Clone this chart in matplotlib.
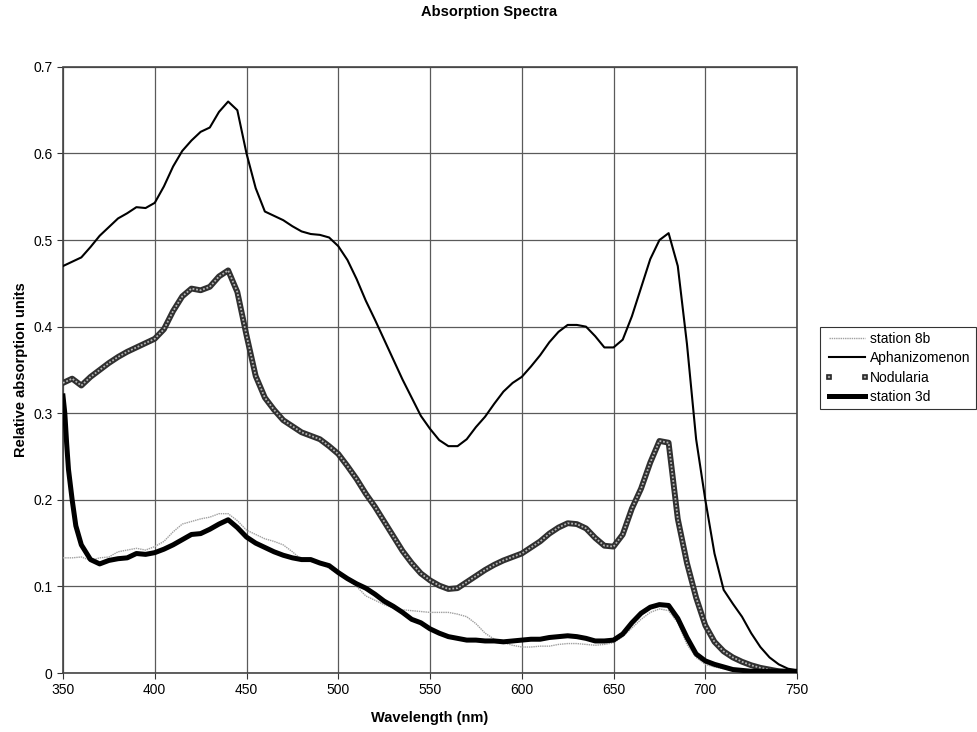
import matplotlib
matplotlib.use("Agg")
import matplotlib.pyplot as plt
from matplotlib.lines import Line2D
from matplotlib.ticker import FuncFormatter

plt.rcParams['font.family'] = ['Liberation Sans', 'DejaVu Sans']

# wavelength grid (nm), 5 nm steps
wl = list(range(350, 755, 5))

aphanizomenon = [0.470, 0.475, 0.480, 0.492, 0.505, 0.515, 0.525, 0.531, 0.538, 0.537,
                 0.543, 0.562, 0.585, 0.603, 0.615, 0.625, 0.630, 0.648, 0.660, 0.650,
                 0.600, 0.560, 0.533, 0.528, 0.523, 0.516, 0.510, 0.507, 0.506, 0.503,
                 0.493, 0.477, 0.455, 0.430, 0.408, 0.385, 0.362, 0.339, 0.318, 0.297,
                 0.282, 0.269, 0.262, 0.262, 0.270, 0.284, 0.296, 0.311, 0.325, 0.335,
                 0.342, 0.354, 0.367, 0.382, 0.394, 0.402, 0.402, 0.400, 0.389, 0.376,
                 0.376, 0.385, 0.412, 0.445, 0.478, 0.500, 0.508, 0.470, 0.380, 0.270,
                 0.200, 0.138, 0.096, 0.080, 0.065, 0.046, 0.030, 0.018, 0.010, 0.005,
                 0.003]

nodularia = [0.335, 0.340, 0.332, 0.342, 0.350, 0.358, 0.365, 0.371, 0.376, 0.381,
             0.386, 0.397, 0.418, 0.435, 0.444, 0.442, 0.446, 0.458, 0.465, 0.440,
             0.390, 0.343, 0.318, 0.304, 0.292, 0.285, 0.278, 0.274, 0.270, 0.262,
             0.253, 0.239, 0.224, 0.207, 0.192, 0.175, 0.158, 0.141, 0.127, 0.115,
             0.107, 0.101, 0.097, 0.098, 0.105, 0.112, 0.119, 0.125, 0.130, 0.134,
             0.138, 0.145, 0.152, 0.161, 0.168, 0.173, 0.172, 0.167, 0.156, 0.147,
             0.146, 0.160, 0.190, 0.213, 0.243, 0.268, 0.266, 0.178, 0.127, 0.087,
             0.055, 0.036, 0.025, 0.018, 0.013, 0.009, 0.006, 0.004, 0.002, 0.001,
             0.000]

station_8b = [0.133, 0.133, 0.134, 0.130, 0.133, 0.134, 0.140, 0.142, 0.144, 0.142,
              0.146, 0.152, 0.163, 0.172, 0.175, 0.178, 0.180, 0.184, 0.184, 0.176,
              0.165, 0.160, 0.155, 0.152, 0.148, 0.140, 0.131, 0.129, 0.127, 0.121,
              0.115, 0.108, 0.100, 0.089, 0.084, 0.079, 0.075, 0.073, 0.072, 0.071,
              0.070, 0.070, 0.070, 0.068, 0.065, 0.057, 0.046, 0.039, 0.035, 0.032,
              0.030, 0.030, 0.031, 0.031, 0.033, 0.034, 0.034, 0.033, 0.032, 0.033,
              0.035, 0.042, 0.052, 0.062, 0.070, 0.074, 0.072, 0.058, 0.033, 0.018,
              0.010, 0.007, 0.005, 0.003, 0.002, 0.002, 0.001, 0.001, 0.001, 0.001,
              0.001]

# station 3d has a steep start, so a few extra points at the beginning
wl_3d = [350, 351, 352, 353, 355, 357] + list(range(360, 755, 5))
station_3d = [0.320, 0.300, 0.265, 0.235, 0.200, 0.170,
              0.148, 0.131, 0.126, 0.130, 0.132, 0.133, 0.138, 0.137,
              0.139, 0.143, 0.148, 0.154, 0.160, 0.161, 0.166, 0.172, 0.177, 0.168,
              0.157, 0.150, 0.145, 0.140, 0.136, 0.133, 0.131, 0.131, 0.127, 0.124,
              0.116, 0.109, 0.103, 0.098, 0.091, 0.083, 0.077, 0.070, 0.062, 0.058,
              0.051, 0.046, 0.042, 0.040, 0.038, 0.038, 0.037, 0.037, 0.036, 0.037,
              0.038, 0.039, 0.039, 0.041, 0.042, 0.043, 0.042, 0.040, 0.037, 0.037,
              0.038, 0.045, 0.058, 0.069, 0.076, 0.079, 0.078, 0.063, 0.041, 0.022,
              0.014, 0.010, 0.007, 0.004, 0.003, 0.002, 0.002, 0.002, 0.002, 0.002,
              0.002]

x_ticks = [350, 400, 450, 500, 550, 600, 650, 700, 750]
y_ticks = [0, 0.1, 0.2, 0.3, 0.4, 0.5, 0.6, 0.7]


def main():
	fig = plt.figure(figsize=(9.78, 7.32), dpi=100)
	ax = fig.add_axes([0.0644, 0.0806, 0.7506, 0.828])

	ax.plot(wl, station_8b, color='#a0a0a0', lw=1.0, ls=(0, (1, 0.6)), zorder=3)
	ax.plot(wl, aphanizomenon, color='black', lw=1.5, zorder=4)
	# nodularia: dark chain with light centre, like the Excel markers
	ax.plot(wl, nodularia, color='#303030', lw=4.2, zorder=5)
	ax.plot(wl, nodularia, color='#b4b4b4', lw=1.3, ls=(0, (1, 1)), zorder=6)
	ax.plot(wl_3d, station_3d, color='black', lw=3.6, zorder=7)

	ax.set_xlim(350, 750)
	ax.set_ylim(0, 0.7)
	ax.set_xticks(x_ticks)
	ax.set_yticks(y_ticks)
	ax.yaxis.set_major_formatter(FuncFormatter(lambda v, p: '%g' % round(v, 1)))
	ax.tick_params(labelsize=10, length=4, width=0.8, color='#333', direction='out')
	ax.grid(True, color='#5a5a5a', lw=0.9)
	ax.set_axisbelow(True)
	for s in ax.spines.values():
		s.set_linestyle((0, (1, 1)))
		s.set_color('#444')
		s.set_linewidth(1.2)

	ax.set_xlabel('Wavelength (nm)', fontsize=10.5, fontweight='bold', labelpad=10)
	ax.set_ylabel('Relative absorption units', fontsize=10.5, fontweight='bold', labelpad=4)
	fig.text(0.5, 0.984, 'Absorption Spectra', ha='center', va='center',
			 fontsize=10.5, fontweight='bold')

	handles = [
		Line2D([], [], color='#a0a0a0', lw=1.0, ls=(0, (1, 0.6))),
		Line2D([], [], color='black', lw=1.5),
		Line2D([], [], ls='none', marker='s', ms=3.5, mfc='#a0a0a0', mec='#262626', mew=1.2),
		Line2D([], [], color='black', lw=3.6),
	]
	leg = fig.legend(handles, ['station 8b', 'Aphanizomenon', 'Nodularia', 'station 3d'],
					 loc='upper left', bbox_to_anchor=(0.838, 0.553), fontsize=10,
					 frameon=True, fancybox=False, edgecolor='black', numpoints=2,
					 handlelength=3.2, handletextpad=0.1, borderpad=0.35,
					 labelspacing=0.38, borderaxespad=0)
	leg.get_frame().set_linewidth(0.8)

	fig.savefig('out.png', dpi=100)


if __name__ == "__main__":
	main()
